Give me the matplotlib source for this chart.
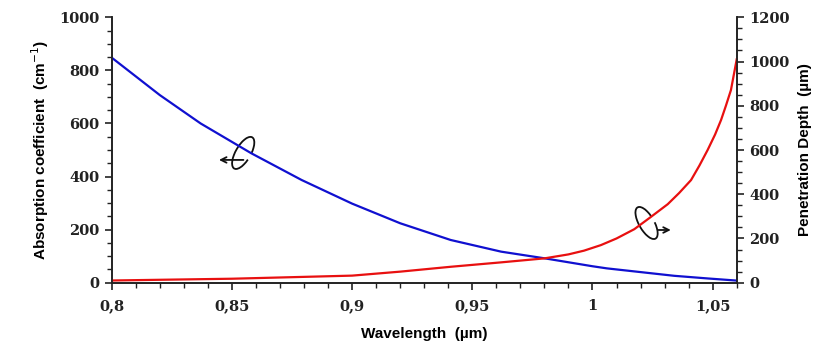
import matplotlib
matplotlib.use("Agg")
import matplotlib.pyplot as plt
from matplotlib.patches import Arc
from matplotlib.transforms import ScaledTranslation
from matplotlib.ticker import MultipleLocator

# values
blue_wl = [0.800, 0.820, 0.837, 0.858, 0.879, 0.900, 0.920, 0.941, 0.962,
           0.980, 1.000, 1.006, 1.020, 1.034, 1.048, 1.060]
absorption = [848, 707, 600, 488, 387, 298, 224, 161, 117, 92, 62, 54, 40,
              26, 16, 8]

red_wl = [0.800, 0.850, 0.900, 0.920, 0.941, 0.962, 0.980, 0.990, 0.9965,
          1.0035, 1.010, 1.0174, 1.024, 1.0313, 1.036, 1.041, 1.0445,
          1.0479, 1.051, 1.0535, 1.0555, 1.0576, 1.060]
depth = [10, 18, 32, 50, 72, 92, 110, 128, 145, 170, 200, 242, 295, 355,
         405, 464, 530, 600, 670, 736, 800, 871, 1010]

x_ticks = [0.80, 0.85, 0.90, 0.95, 1.00, 1.05]
x_labels = ["0,8", "0,85", "0,9", "0,95", "1", "1,05"]

serif = ["DejaVu Serif"]
sans = ["Liberation Sans Narrow", "Liberation Sans", "DejaVu Sans"]

fig = plt.figure(figsize=(8.3, 3.54), dpi=100)
ax = fig.add_axes([0.1346, 0.2014, 0.7530, 0.7497])
ax2 = ax.twinx()

ax.plot(blue_wl, absorption, color="#1010d0", lw=1.6, zorder=3)
ax2.plot(red_wl, depth, color="#e81010", lw=1.6)

ax.set_xlim(0.8, 1.06)
ax.set_ylim(0, 1000)
ax2.set_ylim(0, 1200)

ax.set_xticks(x_ticks)
ax.set_xticklabels(x_labels)
ax.xaxis.set_minor_locator(MultipleLocator(0.01))
ax.yaxis.set_major_locator(MultipleLocator(200))
ax.yaxis.set_minor_locator(MultipleLocator(50))
ax2.yaxis.set_major_locator(MultipleLocator(200))
ax2.yaxis.set_minor_locator(MultipleLocator(50))

for a in (ax, ax2):
    a.spines["top"].set_visible(False)
    for s in a.spines.values():
        s.set_color("#222222")
        s.set_linewidth(1.2)
    a.tick_params(which="major", direction="out", length=5, width=1.2,
                  color="#222222", labelsize=10.5, pad=4)
    a.tick_params(which="minor", direction="out", length=3.5, width=1.0,
                  color="#222222")
    for lab in a.get_xticklabels() + a.get_yticklabels():
        lab.set_family(serif)
        lab.set_fontweight("bold")
        lab.set_color("#222222")
ax.tick_params(axis="x", pad=7)

ax.set_xlabel("Wavelength  (\u00b5m)", family=sans, fontweight="bold",
              fontsize=11, labelpad=10)
ax.set_ylabel("Absorption coefficient  (cm$^{-1}$)", family=sans,
              fontweight="bold", fontsize=11, labelpad=6)
ax2.set_ylabel("Penetration Depth  (\u00b5m)", family=sans,
               fontweight="bold", fontsize=11, labelpad=6)


def loop_arrow(x, y, angle, x0, x1):
    # small hand-drawn style loop with an arrow, placed at a data point
    tr = fig.dpi_scale_trans + ScaledTranslation(x, y, ax.transData)
    ax.add_patch(Arc((0, 0), 0.15, 0.36, angle=angle, theta1=25, theta2=335,
                     transform=tr, color="#111111", lw=1.3, clip_on=False))
    ax.annotate("", xy=(x1, -0.07), xytext=(x0, -0.07),
                xycoords=tr, textcoords=tr,
                arrowprops=dict(arrowstyle="->", color="#111111", lw=1.3))


loop_arrow(0.8547, 489, -30, 0.03, -0.27)
loop_arrow(1.0225, 225, 30, 0.09, 0.27)

fig.savefig("out.png", dpi=100, facecolor="white")
